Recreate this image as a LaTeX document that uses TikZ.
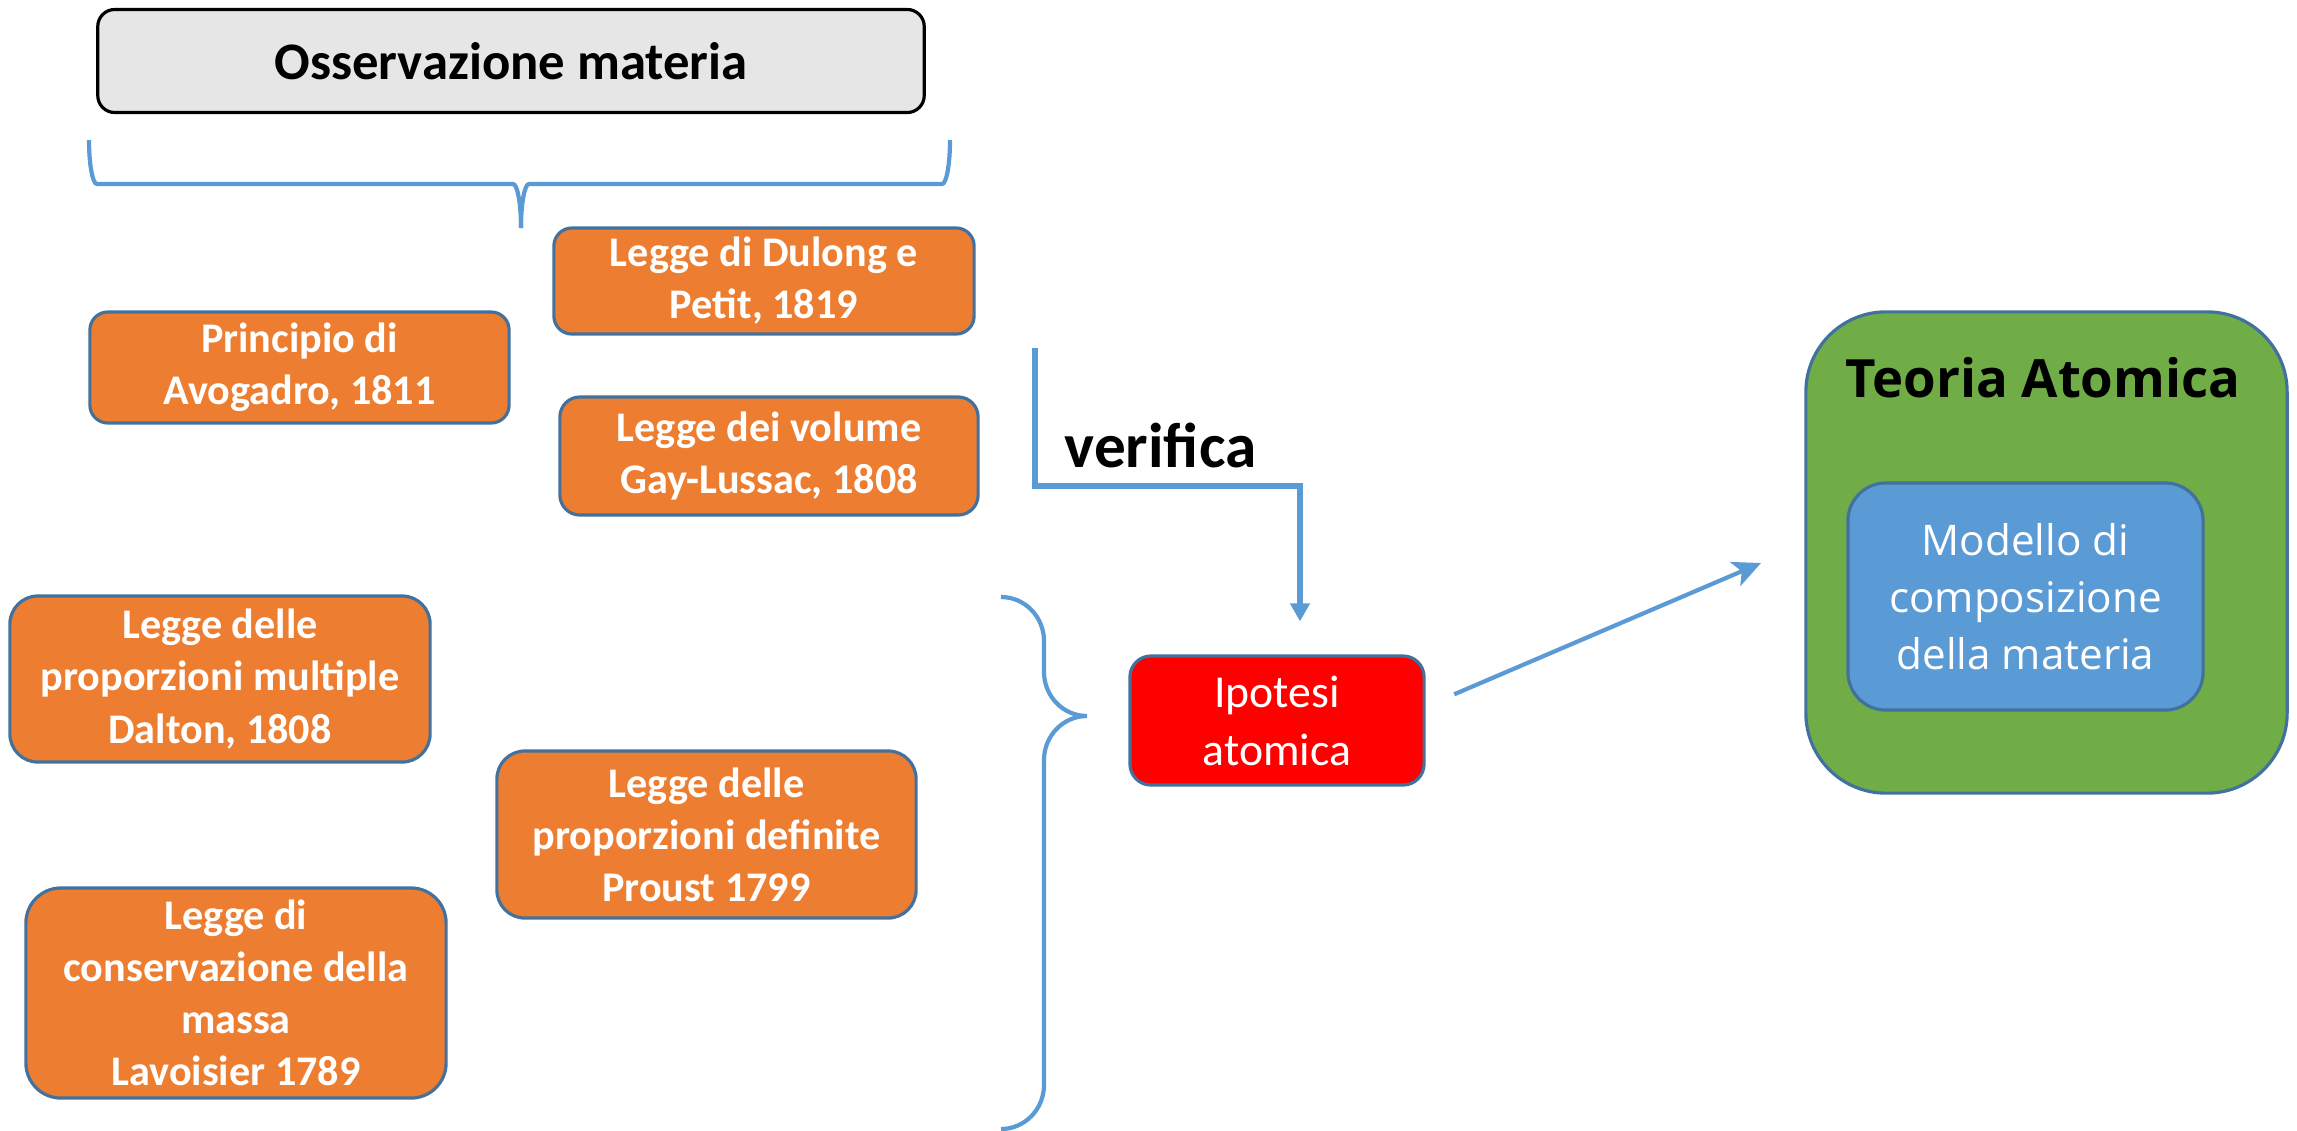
\documentclass[tikz,border=0pt]{standalone}
\usepackage{fontspec}
\setmainfont{Carlito}
\newfontfamily\opensans{Open Sans}
\usetikzlibrary{calc}
\usetikzlibrary{arrows.meta}
\definecolor{arancio}{HTML}{ED7D31}
\definecolor{bordo}{HTML}{41719C}
\definecolor{azzurro}{HTML}{5B9BD5}
\definecolor{verde}{HTML}{70AD47}
\definecolor{grigio}{HTML}{E7E6E6}
\tikzset{
	% orange boxes, corner radius passed in
	legge/.style={draw=bordo, line width=0.9pt, fill=arancio, text=white,
		font=\bfseries\fontsize{12}{14.8}\selectfont, align=center,
		inner sep=0pt, rounded corners=#1},
	legge/.default=0.18cm,
	linea/.style={draw=azzurro, line width=1.2pt},
	freccia/.style={linea, -{Stealth[length=0.28cm,width=0.26cm,inset=0.07cm]}}
}

\begin{document}
\begin{tikzpicture}[x=0.01cm, y=-0.01cm]
	% canvas 2297 x 1130, y pointing down
	\useasboundingbox (0,0) rectangle (2297,1130);

	% header
	\node[draw=black, line width=0.9pt, fill=grigio, rounded corners=0.17cm,
		minimum width=8.26cm, minimum height=1.03cm, inner sep=0pt,
		font=\bfseries\fontsize{15}{18}\selectfont] (oss) at (511,61) {Osservazione materia};

	% laws
	\node[legge, minimum width=4.20cm, minimum height=1.06cm] (dulong) at (764,281)
		{Legge di Dulong e\\Petit, 1819};
	\node[legge, minimum width=4.19cm, minimum height=1.11cm] (avogadro) at (299.5,367.5)
		{Principio di\\Avogadro, 1811};
	\node[legge=0.2cm, minimum width=4.18cm, minimum height=1.18cm] (gaylussac) at (769,456)
		{Legge dei volume\\Gay-Lussac, 1808};
	\node[legge=0.28cm, minimum width=4.20cm, minimum height=1.66cm] (dalton) at (220,679)
		{Legge delle\\proporzioni multiple\\Dalton, 1808};
	\node[legge=0.28cm, minimum width=4.19cm, minimum height=1.67cm] (proust) at (706.5,834.5)
		{Legge delle\\proporzioni definite\\Proust 1799};
	\node[legge=0.35cm, minimum width=4.20cm, minimum height=2.10cm] (lavoisier) at (236,993)
		{Legge di\\conservazione della\\massa\\Lavoisier 1789};

	% hypothesis
	\node[draw=bordo, line width=0.9pt, fill=red, text=white, rounded corners=0.21cm,
		minimum width=2.94cm, minimum height=1.29cm, inner sep=0pt, align=center,
		font=\fontsize{13}{16.5}\selectfont] (ipotesi) at (1277,720.5) {Ipotesi\\atomica};

	% theory
	\node[draw=bordo, line width=0.9pt, fill=verde, rounded corners=0.8cm,
		minimum width=4.81cm, minimum height=4.81cm, inner sep=0pt] (teoria) at (2046.5,552.5) {};
	\node[anchor=base, font=\opensans\bfseries\fontsize{15}{18}\selectfont] (titolo) at (2043,397)
		{Teoria Atomica};
	\node[draw=bordo, line width=0.9pt, fill=azzurro, text=white, rounded corners=0.38cm,
		minimum width=3.55cm, minimum height=2.27cm, inner sep=0pt, align=center,
		font=\opensans\fontsize{12}{16.2}\selectfont] (modello) at (2025.5,596.5)
		{Modello di\\composizione\\della materia};

	% brace under the header
	\draw[linea] (89,140) .. controls (89,164) and (92.5,184) .. (97,184)
		-- (513,184) .. controls (517.5,184) and (521,204) .. (521,228);
	\draw[linea] (521,228) .. controls (521,204) and (524.5,184) .. (529,184)
		-- (942,184) .. controls (946.5,184) and (950,164) .. (950,140);

	% brace on the right of the laws
	\draw[linea] (1001,597) .. controls (1025,597) and (1044,617) .. (1044,641)
		-- (1044,672) .. controls (1044,696) and (1063,716) .. (1087,716)
		.. controls (1063,716) and (1044,736) .. (1044,760)
		-- (1044,1085) .. controls (1044,1109) and (1025,1129) .. (1001,1129);

	% verifica
	\coordinate (verifica0) at (1035,348);
	\coordinate (gomito) at (1300,486);
	\draw[linea, line width=1.5pt, -{Triangle[length=0.18cm,width=0.19cm]}, shorten >=0.33cm]
		(verifica0) |- (gomito) -- (gomito |- ipotesi.north);
	\node[anchor=base west, font=\bfseries\fontsize{18}{21}\selectfont, inner sep=0pt] (verifica) at (1064,467) {verifica};

	\draw[freccia, shorten <=0.31cm, shorten >=0.47cm] ($(ipotesi.east)+(0,-14)$) -- ($(teoria.west)+(0,-8)$);
\end{tikzpicture}
\end{document}
